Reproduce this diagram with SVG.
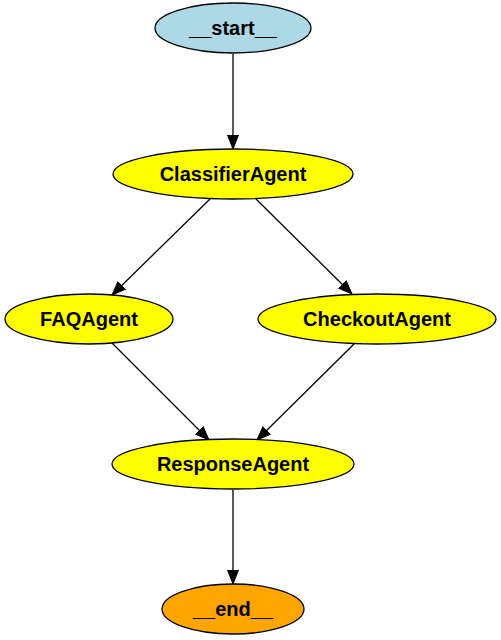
<svg xmlns="http://www.w3.org/2000/svg" width="501" height="640" viewBox="0 0 501 640">
<style>
.node ellipse{stroke:#000;stroke-width:1.3}
.node text{font-family:"Liberation Sans",Arial,Helvetica,sans-serif;font-weight:bold;font-size:20px;text-anchor:middle;fill:#000}
.edge{stroke:#000;stroke-width:1.3;fill:none;marker-end:url(#arr)}
</style>
<defs>
<marker id="arr" markerUnits="userSpaceOnUse" markerWidth="16" markerHeight="14" viewBox="0 -7 16 14" refX="14" refY="0" orient="auto">
<path d="M0,-5.5 L14,0 L0,5.5 Z" fill="#000" stroke="#000" stroke-width="1"/>
</marker>
</defs>
<rect width="501" height="640" fill="#fff"/>
<g id="connectors">
<line class="edge" x1="233" y1="54" x2="233" y2="149"/>
<line class="edge" x1="210" y1="199" x2="112" y2="295"/>
<line class="edge" x1="256" y1="199" x2="352" y2="294"/>
<line class="edge" x1="112" y1="343" x2="209" y2="440"/>
<line class="edge" x1="354" y1="344" x2="257" y2="440"/>
<line class="edge" x1="233" y1="490" x2="233" y2="584"/>
</g>
<g id="start" class="node">
<ellipse cx="233" cy="28" rx="78" ry="25" fill="#add8e6"/>
<text x="233" y="35">__start__</text>
</g>
<g id="ClassifierAgent" class="node">
<ellipse cx="233" cy="174" rx="120" ry="25" fill="#ffff00"/>
<text x="233" y="181">ClassifierAgent</text>
</g>
<g id="FAQAgent" class="node">
<ellipse cx="89" cy="319" rx="84" ry="25" fill="#ffff00"/>
<text x="89" y="326">FAQAgent</text>
</g>
<g id="CheckoutAgent" class="node">
<ellipse cx="377" cy="319" rx="119" ry="25" fill="#ffff00"/>
<text x="377" y="326">CheckoutAgent</text>
</g>
<g id="ResponseAgent" class="node">
<ellipse cx="233" cy="464" rx="121" ry="25" fill="#ffff00"/>
<text x="233" y="471">ResponseAgent</text>
</g>
<g id="end" class="node">
<ellipse cx="233" cy="609" rx="71" ry="25" fill="#ffa500"/>
<text x="233" y="616">__end__</text>
</g>
</svg>
